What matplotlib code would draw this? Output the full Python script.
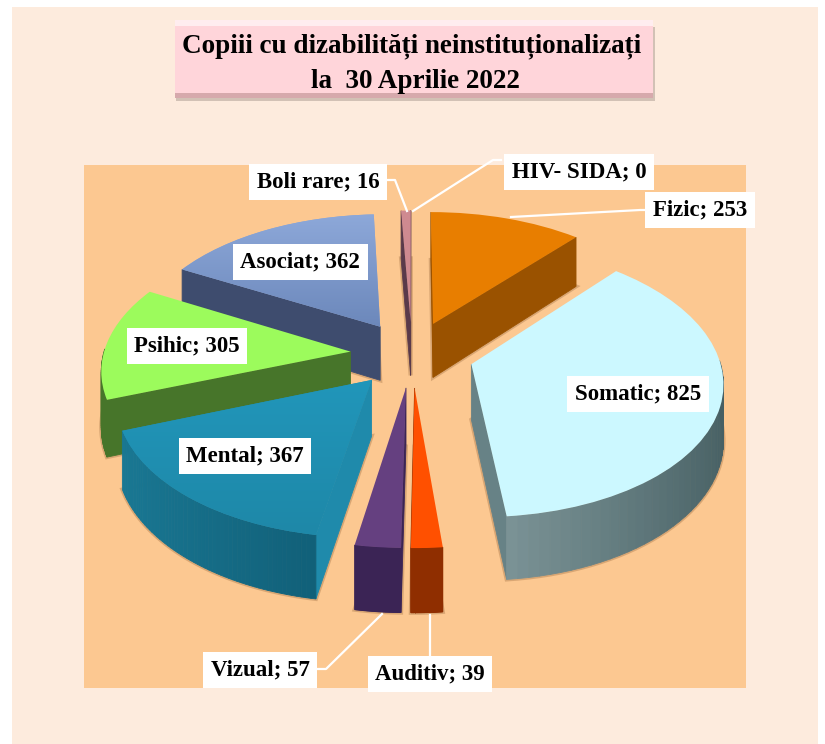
"""Copii cu dizabilitati neinstitutionalizati - pie 3D explodat."""

import matplotlib
matplotlib.use("Agg")
import matplotlib.pyplot as plt
import numpy as np
from matplotlib.colors import to_rgb
from matplotlib.patches import Polygon, Rectangle
from matplotlib.transforms import Transform

categories = ["Fizic", "Somatic", "Auditiv", "Vizual", "Mental", "Psihic", "Asociat", "Boli rare", "HIV- SIDA"]
values = [253, 825, 39, 57, 367, 305, 362, 16, 0]

title_lines = ["Copiii cu dizabilități neinstituționalizați", "la  30 Aprilie 2022"]

top_colors = ["#E87E00", "#CCF8FF", "#FF5000", "#654080", "#2090B4", "#9CFB5C", "#8AA5D6", "#CF8A90", "#CF8A90"]
side_near = ["#9A5200", "#7F979A", "#8F2E00", "#3B2455", "#0F5A72", "#47752A", "#3E4C6E", "#5A3A4A", "#5A3A4A"]
side_far = ["#9A5200", "#465F63", "#8F2E00", "#3B2455", "#1A7A96", "#47752A", "#3E4C6E", "#5A3A4A", "#5A3A4A"]
side_radial = ["#9A5200", "#678286", "#8F2E00", "#3B2455", "#1F8AAB", "#47752A", "#3E4C6E", "#5A3A4A", "#5A3A4A"]
draw_order = ["Fizic", "HIV- SIDA", "Boli rare", "Asociat", "Psihic", "Mental", "Somatic", "Vizual", "Auditiv"]

# centru, scara si perspectiva (pixeli)
CX, CY = 412, 354
SX, SY = 247, 132
PERSP = 0.12
DEPTH = 55
EXPLODE = 0.25

plt.rcParams["font.family"] = ["Liberation Serif", "DejaVu Serif"]
plt.rcParams["font.weight"] = "bold"


def project(x, y, z=0.0):
    x, y = np.asarray(x, dtype=float), np.asarray(y, dtype=float)
    w = 1 + PERSP * y
    return CX + SX * x / w, CY - SY * y / w + DEPTH * z / w


class PerspectiveTransform(Transform):
    input_dims = 2
    output_dims = 2
    is_separable = False
    has_inverse = False

    def transform_non_affine(self, values):
        values = np.asarray(values)
        u, v = project(values[:, 0], values[:, 1])
        return np.column_stack([u, v])


def mix(c1, c2, t):
    a, b = np.array(to_rgb(c1)), np.array(to_rgb(c2))
    return tuple(a + (b - a) * t)


def draw_sides(ax, wedge, near, far, radial, zorder):
    cx, cy = wedge.center
    th = np.radians(np.linspace(wedge.theta1, wedge.theta2, 60))
    xs = cx + wedge.r * np.cos(th)
    ys = cy + wedge.r * np.sin(th)

    def quad(x0, y0, x1, y1, color):
        u0, v0 = project(x0, y0)
        u1, v1 = project(x1, y1)
        u2, v2 = project(x1, y1, 1)
        u3, v3 = project(x0, y0, 1)
        ax.add_patch(Polygon([(u0, v0), (u1, v1), (u2, v2), (u3, v3)], closed=True,
                             facecolor=color, edgecolor=color, lw=0.6, zorder=zorder))

    # umbra scurta in jurul feliei
    bu, bv = project(np.r_[cx, xs], np.r_[cy, ys], 1)
    ax.add_patch(Polygon(np.column_stack([bu, bv]), closed=True, facecolor="none",
                         edgecolor="#8A5A30", lw=3, alpha=0.3, zorder=zorder))

    # doar fetele spre privitor
    if np.sin(th[0] - np.pi / 2) <= 0.02:
        quad(cx, cy, xs[0], ys[0], radial)
    if np.sin(th[-1] + np.pi / 2) <= 0.02:
        quad(cx, cy, xs[-1], ys[-1], radial)
    for i in range(len(th) - 1):
        if np.sin((th[i] + th[i + 1]) / 2) > 0.02:
            continue
        t = min(1.0, abs(xs[i] - cx) / wedge.r)
        quad(xs[i], ys[i], xs[i + 1], ys[i + 1], mix(near, far, t))


def gradient_on(ax, wedge, c1, c2, zorder):
    cx, cy = wedge.center
    th = np.radians(np.linspace(wedge.theta1, wedge.theta2, 40))
    u, v = project(np.r_[cx, cx + wedge.r * np.cos(th)], np.r_[cy, cy + wedge.r * np.sin(th)])
    grad = np.array([mix(c1, c2, t) for t in np.linspace(0, 1, 64)]).reshape(64, 1, 3)
    im = ax.imshow(grad, extent=(u.min(), u.max(), v.max(), v.min()), aspect="auto", zorder=zorder)
    im.set_clip_path(wedge)


fig = plt.figure(figsize=(8.25, 7.44), dpi=100, facecolor="white")
ax = fig.add_axes([0, 0, 1, 1])

wedges, _ = ax.pie(
    values,
    explode=[EXPLODE] * len(values),
    startangle=90,
    counterclock=False,
    colors=top_colors,
    wedgeprops={"linewidth": 0},
)

persp = PerspectiveTransform()
z = 10
for name in draw_order:
    i = categories.index(name)
    wedge = wedges[i]
    wedge.set_transform(persp + ax.transData)
    wedge.set_clip_on(False)
    if values[i] == 0:
        wedge.set_visible(False)
        continue
    draw_sides(ax, wedge, side_near[i], side_far[i], side_radial[i], z)
    wedge.set_zorder(z + 1)
    if name == "Asociat":
        gradient_on(ax, wedge, "#8DA8D9", "#6C88BB", z + 2)
    if name == "Mental":
        gradient_on(ax, wedge, "#2196BA", "#1E88A8", z + 2)
    z += 5

ax.set_aspect("auto")
ax.set_xlim(0, 825)
ax.set_ylim(744, 0)
ax.axis("off")

# fundal
ax.add_patch(Rectangle((12, 7), 806, 737, facecolor="#FDEBDD", edgecolor="none", zorder=1))
ax.add_patch(Rectangle((84, 165), 662, 523, facecolor="#FCC891", edgecolor="none", zorder=2))

# caseta titlu
ax.add_patch(Rectangle((176, 27), 479, 74, facecolor="#A8988F", edgecolor="none", alpha=0.5, zorder=3))
ax.add_patch(Rectangle((175, 20), 478, 78, facecolor="#FFD5DA", edgecolor="none", zorder=4))
ax.add_patch(Rectangle((175, 20), 478, 6, facecolor="#FFEDEF", edgecolor="none", zorder=5))
ax.add_patch(Rectangle((175, 93), 478, 5, facecolor="#D6A9AC", edgecolor="none", zorder=5))
ax.text(412, 46, title_lines[0], ha="center", va="center", fontsize=19.5, color="black", zorder=6)
ax.text(415, 82, title_lines[1], ha="center", va="center", fontsize=19.5, color="black", zorder=6)

# linii de legatura
leaders = {
    "Boli rare": ([386, 395, 407], [180, 180, 211]),
    "HIV- SIDA": ([501, 493, 413], [160, 160, 211]),
    "Fizic": ([645, 640, 511], [210, 210, 217]),
    "Vizual": ([316, 326, 382], [669, 669, 614]),
    "Auditiv": ([430, 430], [656, 615]),
}
for name, (lx, ly) in leaders.items():
    ax.plot(lx, ly, color="white", lw=1.6, zorder=70)

# etichete
label_pos = {
    "Fizic": (700, 210),
    "Somatic": (638, 394),
    "Auditiv": (430, 674),
    "Vizual": (260, 670),
    "Mental": (245, 456),
    "Psihic": (187, 346),
    "Asociat": (300, 262),
    "Boli rare": (318, 182),
    "HIV- SIDA": (579, 172),
}
for name, value in zip(categories, values):
    lx, ly = label_pos[name]
    ax.text(lx, ly, f"{name}; {value}", ha="center", va="center", fontsize=16.5, color="black",
            zorder=80, bbox={"facecolor": "white", "edgecolor": "none", "pad": 5.5})

fig.savefig("out.png", dpi=100)
